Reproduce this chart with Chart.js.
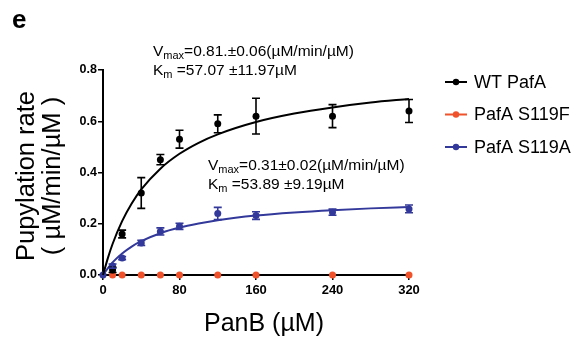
<!DOCTYPE html>
<html>
<head>
<meta charset="utf-8">
<script src="https://cdn.jsdelivr.net/npm/chart.js@4/dist/chart.umd.min.js"></script>
<style>
  html, body { margin: 0; padding: 0; background: #fff; }
  #wrap { width: 581px; height: 340px; }
</style>
</head>
<body>
<div id="wrap"><canvas id="kinetics" width="581" height="340"></canvas></div>
<script>
// measured points (PanB in uM, rate in uM/min/uM)
const panB = [10, 20, 40, 60, 80, 120, 160, 240, 320];
const wtRate = [0.02, 0.16, 0.32, 0.45, 0.53, 0.59, 0.62, 0.62, 0.64];
const wtErr = [0.01, 0.015, 0.06, 0.02, 0.035, 0.035, 0.07, 0.045, 0.045];

const s119fRate = [0, 0, 0, 0, 0, 0, 0, 0, 0];

const panB_A = [0, 10, 20, 40, 60, 80, 120, 160, 240, 320];
const s119aRate = [0, 0.035, 0.066, 0.125, 0.17, 0.19, 0.24, 0.232, 0.245, 0.258];
const s119aErr = [0, 0.008, 0.006, 0.01, 0.014, 0.012, 0.024, 0.015, 0.012, 0.015];

// fitted curves
const fitX = [0, 5, 10, 20, 30, 40, 60, 80, 100, 120, 160, 200, 240, 280, 320];
const wtFit = [0, 0.065, 0.121, 0.21, 0.279, 0.334, 0.415, 0.473, 0.516, 0.549, 0.597, 0.63, 0.654, 0.673, 0.687];
const s119aFit = [0, 0.026, 0.049, 0.084, 0.111, 0.132, 0.163, 0.185, 0.201, 0.214, 0.232, 0.244, 0.253, 0.26, 0.265];

const xTicks = [0, 80, 160, 240, 320];
const yTicks = [0, 0.2, 0.4, 0.6, 0.8];

const BLACK = '#000000';
const RED = '#f0532b';
const BLUE = '#33399a';
const FONT = "Arial, 'Liberation Sans', sans-serif";

function toXY(xs, ys) {
    return xs.map(function (x, i) { return {x: x, y: ys[i]}; });
}

// error bars, drawn through the chart scales
const errorBars = [
    {xs: panB, ys: wtRate, errs: wtErr, color: BLACK},
    {xs: panB_A, ys: s119aRate, errs: s119aErr, color: BLUE}
];

const errorBarPlugin = {
    id: 'errorBars',
    afterDatasetsDraw: function (chart) {
        let ctx = chart.ctx;
        let xs = chart.scales.x, ys = chart.scales.y;
        ctx.save();
        ctx.lineWidth = 1.6;
        for (let set of errorBars) {
            ctx.strokeStyle = set.color;
            for (let i = 0; i < set.xs.length; i++) {
                if (!set.errs[i]) continue;
                let px = xs.getPixelForValue(set.xs[i]);
                let top = ys.getPixelForValue(set.ys[i] + set.errs[i]);
                let bot = ys.getPixelForValue(set.ys[i] - set.errs[i]);
                ctx.beginPath();
                ctx.moveTo(px, top); ctx.lineTo(px, bot);
                ctx.moveTo(px - 4, top); ctx.lineTo(px + 4, top);
                ctx.moveTo(px - 4, bot); ctx.lineTo(px + 4, bot);
                ctx.stroke();
            }
        }
        ctx.restore();
    }
};

// text with a subscript part: [[text, isSub], ...]
function drawRich(ctx, parts, x, y, size) {
    for (let p of parts) {
        ctx.font = (p[1] ? Math.round(size * 0.68) : size) + 'px ' + FONT;
        ctx.fillText(p[0], x, p[1] ? y + 3 : y);
        x += ctx.measureText(p[0]).width;
    }
}

const legendItems = [
    {label: 'WT PafA', color: BLACK},
    {label: 'PafA S119F', color: RED},
    {label: 'PafA S119A', color: BLUE}
];

const decorPlugin = {
    id: 'decor',
    afterDraw: function (chart) {
        let ctx = chart.ctx;
        ctx.save();
        ctx.fillStyle = '#000';
        ctx.textBaseline = 'alphabetic';

        // panel letter
        ctx.font = 'bold 26px ' + FONT;
        ctx.fillText('e', 12, 28);

        // fit parameters
        drawRich(ctx, [['V', 0], ['max', 1], ['=0.81.\u00b10.06(\u00b5M/min/\u00b5M)', 0]], 153, 56, 15.5);
        drawRich(ctx, [['K', 0], ['m', 1], [' =57.07 \u00b111.97\u00b5M', 0]], 153, 75, 15.5);
        drawRich(ctx, [['V', 0], ['max', 1], ['=0.31\u00b10.02(\u00b5M/min/\u00b5M)', 0]], 208, 170, 15.5);
        drawRich(ctx, [['K', 0], ['m', 1], [' =53.89 \u00b19.19\u00b5M', 0]], 208, 189, 15.5);

        // axis titles
        ctx.font = '25px ' + FONT;
        ctx.textAlign = 'center';
        ctx.fillText('PanB (\u00b5M)', 264, 331);
        ctx.save();
        ctx.translate(0, 176);
        ctx.rotate(-Math.PI / 2);
        ctx.textBaseline = 'middle';
        ctx.font = '25.5px ' + FONT;
        ctx.fillText('Pupylation rate', 0, 27);
        ctx.fillText('( \u00b5M/min/\u00b5M )', 0, 53);
        ctx.restore();

        // legend
        ctx.textAlign = 'left';
        ctx.textBaseline = 'middle';
        ctx.font = '18px ' + FONT;
        legendItems.forEach(function (item, i) {
            let y = 82 + i * 32.5;
            ctx.strokeStyle = item.color;
            ctx.fillStyle = item.color;
            ctx.lineWidth = 2;
            ctx.beginPath();
            ctx.moveTo(445, y); ctx.lineTo(467, y);
            ctx.stroke();
            ctx.beginPath();
            ctx.arc(456, y, 3.2, 0, Math.PI * 2);
            ctx.fill();
            ctx.fillStyle = '#000';
            ctx.fillText(item.label, 474, y + 1);
        });
        ctx.restore();
    }
};

const ctx = document.getElementById('kinetics').getContext('2d');
const chart = new Chart(ctx, {
    type: 'scatter',
    data: {
        datasets: [
            {
                data: toXY(fitX, wtFit), showLine: true, borderColor: BLACK, borderWidth: 2,
                pointRadius: 0, cubicInterpolationMode: 'monotone', clip: false
            },
            {
                data: toXY(fitX, s119aFit), showLine: true, borderColor: BLUE, borderWidth: 2,
                pointRadius: 0, cubicInterpolationMode: 'monotone', clip: false
            },
            {
                data: toXY(panB, wtRate), backgroundColor: BLACK, borderColor: BLACK,
                pointRadius: 3.5, borderWidth: 0, clip: false
            },
            {
                data: toXY(panB, s119fRate), backgroundColor: RED, borderColor: RED,
                pointRadius: 3.5, borderWidth: 0, clip: false
            },
            {
                data: toXY(panB_A, s119aRate), backgroundColor: BLUE, borderColor: BLUE,
                pointRadius: 3.5, borderWidth: 0, clip: false
            }
        ]
    },
    options: {
        responsive: false,
        animation: false,
        events: [],
        layout: {padding: {left: 0, right: 172, top: 70, bottom: 0}},
        plugins: {legend: {display: false}, tooltip: {enabled: false}},
        scales: {
            x: {
                type: 'linear', min: 0, max: 320,
                afterBuildTicks: function (scale) { scale.ticks = xTicks.map(function (v) { return {value: v}; }); },
                afterFit: function (scale) { scale.height = 65; },
                border: {color: '#000', width: 2},
                grid: {drawOnChartArea: false, drawTicks: true, tickLength: 5, color: '#000', lineWidth: 1.5},
                ticks: {color: '#000', padding: 3, maxRotation: 0, font: {family: FONT, size: 13, weight: 'bold'}}
            },
            y: {
                type: 'linear', min: 0, max: 0.8,
                afterBuildTicks: function (scale) { scale.ticks = yTicks.map(function (v) { return {value: v}; }); },
                afterFit: function (scale) { scale.width = 103; },
                border: {color: '#000', width: 2},
                grid: {drawOnChartArea: false, drawTicks: true, tickLength: 5, color: '#000', lineWidth: 1.5},
                ticks: {
                    color: '#000', padding: 1, font: {family: FONT, size: 12.5, weight: 'bold'},
                    callback: function (v) { return v.toFixed(1); }
                }
            }
        }
    },
    plugins: [errorBarPlugin, decorPlugin]
});
</script>
</body>
</html>
